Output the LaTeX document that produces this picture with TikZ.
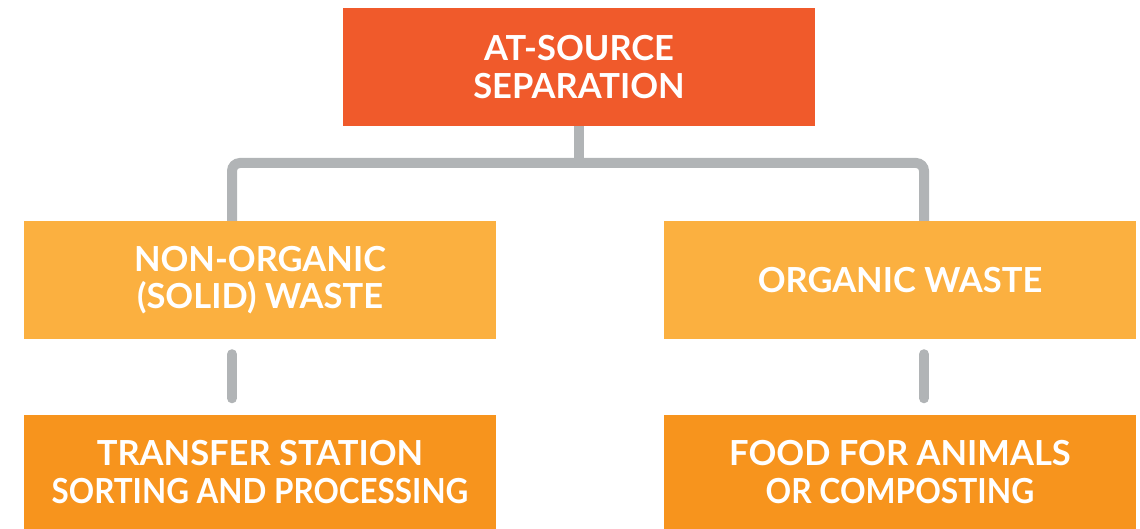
\documentclass[tikz,border=0pt]{standalone}
\usepackage{fontspec}
\setmainfont{Lato}
\usetikzlibrary{calc}
\definecolor{topc}{HTML}{F05A2B}
\definecolor{midc}{HTML}{FBB040}
\definecolor{botc}{HTML}{F7941D}
\definecolor{linec}{HTML}{B1B4B6}
\tikzset{
  box/.style={minimum width=472pt, minimum height=118pt, inner sep=0pt, align=center, text=white,
    font=\bfseries\fontsize{34.5}{37.5}\selectfont},
  conn/.style={draw=linec, line width=10pt}
}
\begin{document}
\begin{tikzpicture}[x=1pt,y=-1pt]
\useasboundingbox (0,0) rectangle (1140,529);
\node[box, fill=topc] (top) at (579,67) {AT-SOURCE\\SEPARATION};
\node[box, fill=midc] (lmid) at (260,280) {NON-ORGANIC\\(SOLID) WASTE};
\node[box, fill=midc] (rmid) at (900,280) {ORGANIC WASTE};
\node[box, fill=botc, minimum height=115pt] (lbot) at (260,472) {TRANSFER STATION\\\scalebox{0.91}[1]{SORTING AND PROCESSING}};
\node[box, fill=botc, minimum height=115pt] (rbot) at (900,472) {FOOD FOR ANIMALS\\\scalebox{0.92}[1]{OR COMPOSTING}};
\coordinate (hl) at (232,163);
\coordinate (hr) at (924,163);
\draw[conn] (top.south) -- (top.south |- hl);
\draw[conn, rounded corners=8pt] (lmid.north -| hl) -- (hl) -- (hr) -- (rmid.north -| hr);
\draw[conn, line cap=round] ($(lmid.south -| hl)+(0,15)$) -- ($(lbot.north -| hl)+(0,-16)$);
\draw[conn, line cap=round] ($(rmid.south -| hr)+(0,15)$) -- ($(rbot.north -| hr)+(0,-16)$);
\end{tikzpicture}
\end{document}
